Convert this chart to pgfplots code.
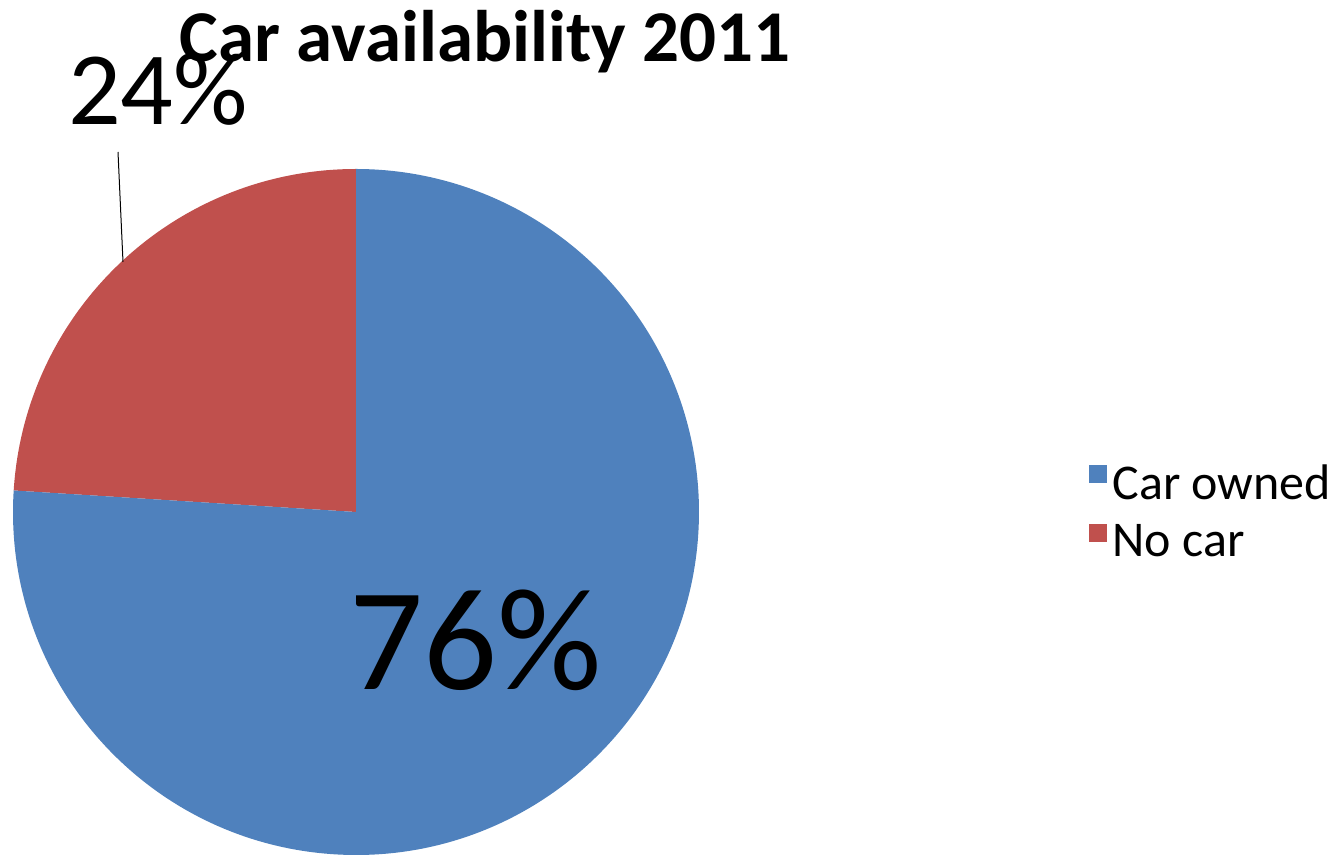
\documentclass[border=0pt]{standalone}
\usepackage{pgfplots}
\pgfplotsset{compat=1.18}
\usepackage{fontspec}
\setmainfont{Carlito}
\definecolor{pieblue}{HTML}{4F81BD}
\definecolor{piered}{HTML}{C0504D}
\begin{document}
\begin{tikzpicture}
\useasboundingbox (0,0) rectangle (672pt,428.5pt);
% values (percent)
\def\valOwned{76}
\def\valNo{24}
\pgfmathsetmacro{\aStart}{90}
\pgfmathsetmacro{\aMid}{90+\valNo*3.6}
\pgfmathsetmacro{\aEnd}{90+360}
\begin{axis}[
  hide axis, scale only axis,
  anchor=south west, at={(0,0)},
  width=672pt, height=428.5pt,
  xmin=0, xmax=1344, ymin=0, ymax=857,
  clip=false,
]
% No car slice
\fill[piered] (axis cs:356,345) -- ++(\aStart:171.5pt) arc[start angle=\aStart, end angle=\aMid, radius=171.5pt] -- cycle;
% Car owned slice
\fill[pieblue] (axis cs:356,345) -- ++(\aMid:171.5pt) arc[start angle=\aMid, end angle=\aEnd, radius=171.5pt] -- cycle;
% leader line
\draw[black, line width=0.5pt] (axis cs:118,705) -- (axis cs:123,595);
% labels
\node[anchor=base, inner sep=0pt, font=\fontsize{52}{62}\selectfont] at (axis cs:158,732) {\valNo\%};
\node[anchor=base, inner sep=0pt, font=\fontsize{73}{88}\selectfont] at (axis cs:476,167) {\valOwned\%};
% title
\node[anchor=base, inner sep=0pt, font=\bfseries\fontsize{36.5}{44}\selectfont] at (axis cs:485,795) {Car availability 2011};
% legend
\fill[pieblue] (axis cs:1089,374) rectangle (axis cs:1107,392);
\fill[piered] (axis cs:1089,315) rectangle (axis cs:1107,333);
\node[anchor=base west, inner sep=0pt, font=\fontsize{25}{30}\selectfont] at (axis cs:1112,357) {Car owned};
\node[anchor=base west, inner sep=0pt, font=\fontsize{25}{30}\selectfont] at (axis cs:1112,300) {No car};
\end{axis}
\end{tikzpicture}
\end{document}
